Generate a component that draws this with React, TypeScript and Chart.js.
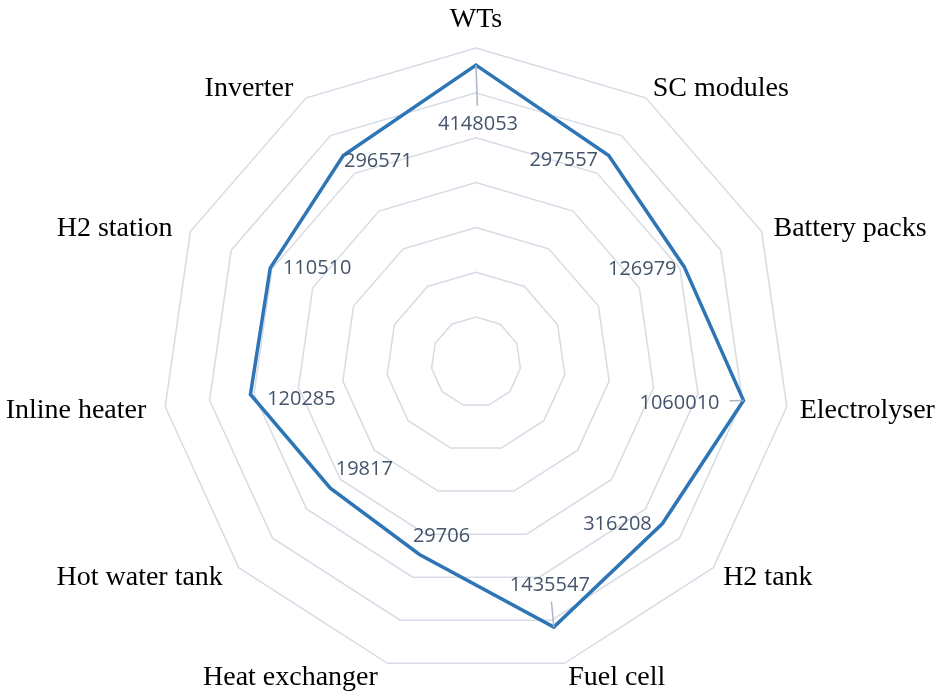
import React, { useEffect, useRef } from "react";
import { Chart, registerables } from "chart.js";

Chart.register(...registerables);

const CATEGORIES = [
  "WTs",
  "SC modules",
  "Battery packs",
  "Electrolyser",
  "H2 tank",
  "Fuel cell",
  "Heat exchanger",
  "Hot water tank",
  "Inline heater",
  "H2 station",
  "Inverter",
];

const VALUES = [
  4148053, 297557, 126979, 1060010, 316208, 1435547, 29706, 19817, 120285, 110510, 296571,
];

// log10 ring ticks: 10^0 .. 10^7
const LOG_MIN = 0;
const LOG_MAX = 7;

// label placement (relative to the data point), layout only
const LABEL_NUDGE: [number, number][] = [
  [2, 58],
  [-45, 3.5],
  [-42, 1],
  [-64, 1.5],
  [-45, 0],
  [-4, -43],
  [22, -19],
  [34, -20],
  [51, 4],
  [47, -1],
  [35, 4.5],
];
const HAS_LEADER = [true, false, false, true, false, true, false, false, false, false, false];

const LINE_COLOR = "#2e75b6";
const GRID_COLOR = "#d6dbe5";
const VALUE_COLOR = "#44546a";
const LEADER_COLOR = "#aab5c6";

const labelsPlugin = {
  id: "customLabels",
  afterDatasetsDraw(chart: any) {
    const ctx = chart.ctx as CanvasRenderingContext2D;
    const scale = chart.scales.r;
    const meta = chart.getDatasetMeta(0);
    const cx = scale.xCenter;
    ctx.save();

    // value labels
    ctx.font = "20px 'Open Sans'";
    ctx.textAlign = "center";
    ctx.textBaseline = "middle";
    const h = 15;
    meta.data.forEach((pt: any, i: number) => {
      const text = String(VALUES[i]);
      const w = ctx.measureText(text).width;
      const lx = pt.x + LABEL_NUDGE[i][0];
      const ly = pt.y + LABEL_NUDGE[i][1];
      if (HAS_LEADER[i]) {
        const gap = 10;
        const hw = w / 2 + gap;
        const hh = h / 2 + gap;
        const dx = pt.x - lx;
        const dy = pt.y - ly;
        const t = Math.min(
          dx !== 0 ? hw / Math.abs(dx) : Infinity,
          dy !== 0 ? hh / Math.abs(dy) : Infinity
        );
        if (t < 1) {
          ctx.beginPath();
          ctx.strokeStyle = LEADER_COLOR;
          ctx.lineWidth = 1.5;
          ctx.moveTo(pt.x, pt.y);
          ctx.lineTo(lx + dx * t, ly + dy * t);
          ctx.stroke();
        }
      }
      ctx.fillStyle = VALUE_COLOR;
      ctx.fillText(text, lx, ly + 1);
    });

    // category labels
    ctx.font = "28px 'Liberation Serif'";
    ctx.fillStyle = "#000000";
    CATEGORIES.forEach((label: string, i: number) => {
      const p = scale.getPointPosition(i, scale.drawingArea + 13);
      if (Math.abs(p.x - cx) < 2) {
        const pt = scale.getPointPosition(i, scale.drawingArea + 21);
        ctx.textAlign = "center";
        ctx.textBaseline = "alphabetic";
        ctx.fillText(label, pt.x, pt.y);
      } else if (p.x > cx) {
        ctx.textAlign = "left";
        ctx.textBaseline = "middle";
        ctx.fillText(label, p.x, p.y + 2);
      } else {
        ctx.textAlign = "right";
        ctx.textBaseline = "middle";
        ctx.fillText(label, p.x - 6, p.y + 2);
      }
    });
    ctx.restore();
  },
};

export default function App() {
  const canvasRef = useRef<HTMLCanvasElement | null>(null);

  useEffect(() => {
    const canvas = canvasRef.current;
    if (!canvas) return;
    const chart = new Chart(canvas, {
      type: "radar",
      data: {
        labels: CATEGORIES,
        datasets: [
          {
            label: "Cost",
            data: VALUES.map((v) => Math.log10(v)),
            borderColor: LINE_COLOR,
            borderWidth: 3.5,
            pointRadius: 0,
            pointHoverRadius: 0,
            fill: false,
            tension: 0,
          },
        ],
      },
      options: {
        responsive: true,
        maintainAspectRatio: false,
        animation: false,
        layout: { padding: { left: 162, right: 150, top: 48, bottom: 16 } },
        plugins: {
          legend: { display: false },
          tooltip: { enabled: false },
        },
        scales: {
          r: {
            min: LOG_MIN,
            max: LOG_MAX,
            ticks: { display: false, stepSize: 1 },
            grid: { color: GRID_COLOR, lineWidth: 1.5 },
            angleLines: { display: false },
            pointLabels: { display: false },
          },
        },
      },
      plugins: [labelsPlugin],
    });
    return () => chart.destroy();
  }, []);

  return (
    <div style={{ position: "absolute", left: 0, top: 0, width: 940, height: 692, background: "#ffffff" }}>
      <canvas ref={canvasRef} />
    </div>
  );
}
